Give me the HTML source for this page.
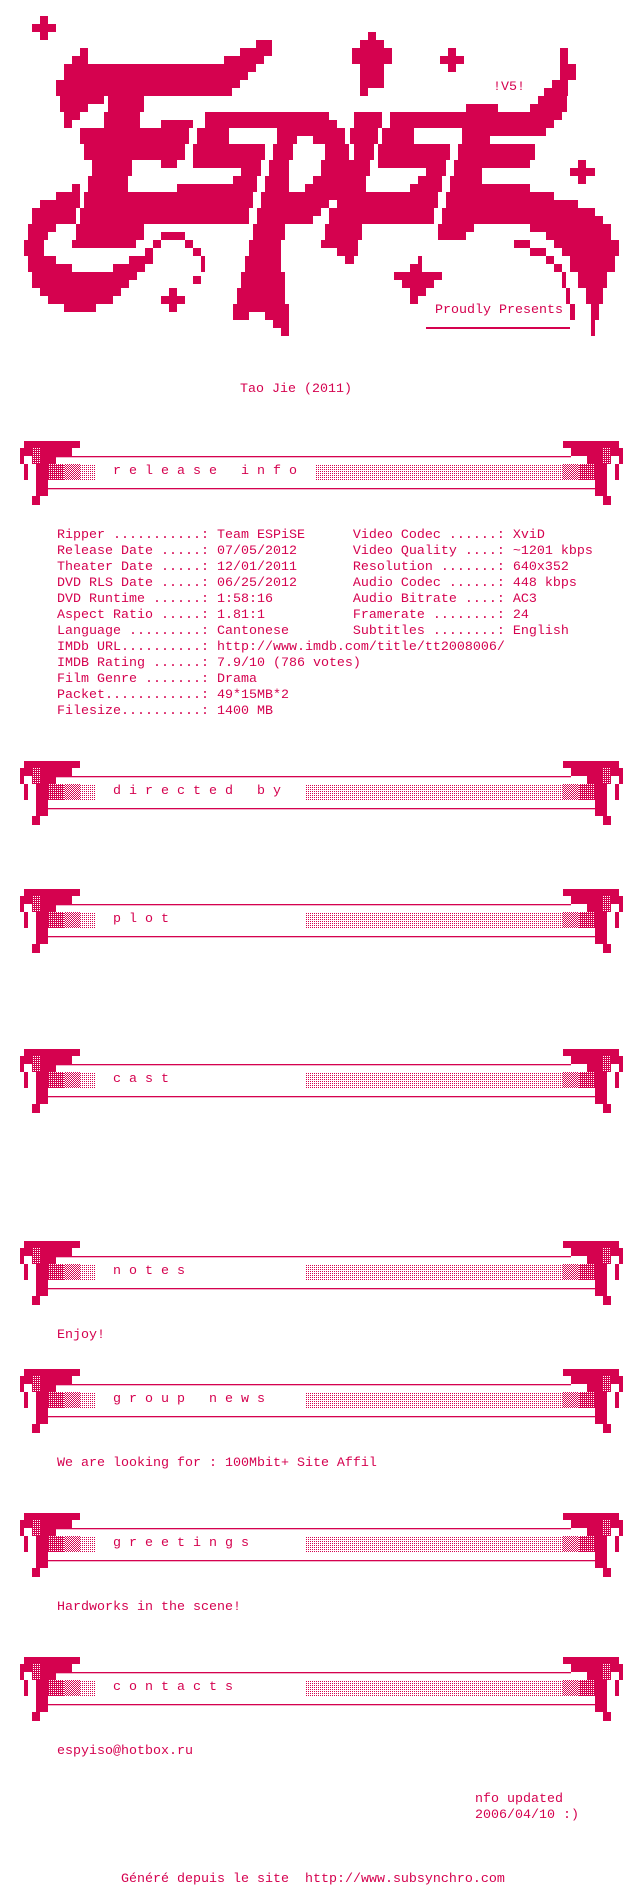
<!DOCTYPE html>
<html><head><meta charset="utf-8">
<style>
html,body{margin:0;padding:0;background:#fff;}
body{width:624px;height:1888px;position:relative;overflow:hidden;}
.t{position:absolute;margin:0;font-family:"Liberation Mono",monospace;font-size:13.33px;line-height:16px;color:#d5024f;white-space:pre;}
.h{position:absolute;left:0;width:624px;height:64px;}
svg{display:block;}
</style></head><body>
<svg width="0" height="0" style="position:absolute">
<defs>
<pattern id="pd" width="2" height="2" patternUnits="userSpaceOnUse"><rect width="2" height="2" fill="#d5024f"/><rect x="1" y="1" width="1" height="1" fill="#fff"/></pattern>
<pattern id="pc" width="2" height="2" patternUnits="userSpaceOnUse"><rect width="1" height="1" fill="#d5024f"/><rect x="1" y="1" width="1" height="1" fill="#d5024f"/></pattern>
<pattern id="ps" width="2" height="2" patternUnits="userSpaceOnUse"><rect width="1" height="1" fill="#d5024f"/></pattern>
<g id="hd">
<rect x="24" y="0" width="56" height="7" fill="#d5024f"/>
<rect x="20" y="7" width="52" height="8" fill="#d5024f"/>
<rect x="56" y="15" width="515" height="1.3" fill="#d5024f"/>
<rect x="20" y="15" width="4" height="8" fill="#d5024f"/>
<rect x="40" y="15" width="16" height="8" fill="#d5024f"/>
<rect x="24" y="23" width="4" height="16" fill="#d5024f"/>
<rect x="36" y="23" width="12" height="32" fill="#d5024f"/>
<rect x="32" y="7" width="8" height="16" fill="#fff"/>
<rect x="32" y="7" width="8" height="16" fill="url(#pd)"/>
<rect x="48" y="23" width="16" height="16" fill="url(#pd)"/>
<rect x="64" y="23" width="16" height="16" fill="url(#pc)"/>
<rect x="80" y="23" width="16" height="16" fill="url(#ps)"/>
<rect x="48" y="47" width="547" height="1.3" fill="#d5024f"/>
<rect x="32" y="55" width="8" height="9" fill="#d5024f"/>
<rect x="563" y="0" width="56" height="7" fill="#d5024f"/>
<rect x="571" y="7" width="52" height="8" fill="#d5024f"/>
<rect x="587" y="15" width="16" height="8" fill="#d5024f"/>
<rect x="619" y="15" width="4" height="8" fill="#d5024f"/>
<rect x="615" y="23" width="4" height="16" fill="#d5024f"/>
<rect x="595" y="23" width="12" height="32" fill="#d5024f"/>
<rect x="603" y="7" width="8" height="16" fill="#fff"/>
<rect x="603" y="7" width="8" height="16" fill="url(#pd)"/>
<rect x="562" y="23" width="17" height="16" fill="url(#pc)"/>
<rect x="579" y="23" width="16" height="16" fill="url(#pd)"/>
<rect x="603" y="55" width="8" height="9" fill="#d5024f"/>
</g>
</defs></svg>

<svg style="position:absolute;left:0;top:0" width="624" height="336" viewBox="0 0 78 42" preserveAspectRatio="none" shape-rendering="crispEdges">
<path fill="#d5024f" d="
M5 2h1v1h-1z M4 3h3v1h-3z M5 4h1v1h-1z M46 4h1v1h-1z
M32 5h2v1h-2z M45 5h3v1h-3z
M10 6h1v1h-1z M30 6h4v1h-4z M44 6h5v1h-5z M56 6h1v1h-1z M70 6h1v1h-1z
M9 7h2v1h-2z M28 7h5v1h-5z M44 7h5v1h-5z M55 7h3v1h-3z M70 7h1v1h-1z
M8 8h24v1h-24z M45 8h3v1h-3z M56 8h1v1h-1z M70 8h2v1h-2z
M8 9h23v1h-23z M45 9h3v1h-3z M70 9h2v1h-2z
M7 10h23v1h-23z M45 10h3v1h-3z M69 10h2v1h-2z
M7 11h22v1h-22z M45 11h1v1h-1z M68 11h3v1h-3z
M7.5 12h5.5v1h-5.5z M13.5 12h4.5v1h-4.5z M67.25 12h3.6v1h-3.6z
M7.5 13h3.5v1h-3.5z M13.5 13h4.5v1h-4.5z M58.25 13h4v1h-4z M66.25 13h4.6v1h-4.6z
M8 14h2v1h-2z M13 14h4.5v1h-4.5z M25.65 14h15.5v1h-15.5z M44.25 14h3.5v1h-3.5z M48.75 14h21.5v1h-21.5z
M8 15h1v1h-1z M13 15h4.5v1h-4.5z M20.1 15h4v1h-4z M25.65 15h16.5v1h-16.5z M44.25 15h3.5v1h-3.5z M48.75 15h20.5v1h-20.5z
M10 16h13.6v1h-13.6z M24.65 16h4v1h-4z M34.65 16h8.5v1h-8.5z M43.75 16h3.5v1h-3.5z M47.75 16h4v1h-4z M57.75 16h10.5v1h-10.5z
M10 17h13.6v1h-13.6z M24.65 17h4v1h-4z M34.65 17h2.5v1h-2.5z M39.15 17h4v1h-4z M43.75 17h3.5v1h-3.5z M47.75 17h4v1h-4z M57.75 17h3.5v1h-3.5z
M10.5 18h12.6v2h-12.6z M24.15 18h9v2h-9z M34.15 18h2.5v2h-2.5z M40.65 18h3v2h-3z M44.25 18h2.5v2h-2.5z M47.25 18h9v2h-9z M57.25 18h9.6v2h-9.6z
M11.5 20h5v1h-5z M20.1 20h2v1h-2z M24.15 20h8.5v1h-8.5z M33.65 20h2.5v1h-2.5z M40.15 20h6.1v1h-6.1z M47.25 20h8.5v1h-8.5z M56.75 20h9.5v1h-9.5z M72.25 20h1v1h-1z
M11.5 21h5v1h-5z M30.15 21h2.5v1h-2.5z M33.65 21h2.5v1h-2.5z M40.15 21h6.1v1h-6.1z M53.25 21h2.5v1h-2.5z M56.75 21h3.5v1h-3.5z M71.25 21h3.1v1h-3.1z
M11 22h5v1h-5z M29.15 22h3v1h-3z M33.15 22h3v1h-3z M39.15 22h6.6v1h-6.6z M52.25 22h3v1h-3z M56.25 22h4v1h-4z M72.25 22h1v1h-1z
M9 23h1v1h-1z M11 23h5v1h-5z M22.1 23h10.05v1h-10.05z M33.15 23h3v1h-3z M38.15 23h7.6v1h-7.6z M51.25 23h4v1h-4z M56.25 23h10v1h-10z
M7 24h3v1h-3z M10.5 24h21.15v1h-21.15z M32.65 24h22.1v1h-22.1z M55.75 24h13.5v1h-13.5z
M5 25h5v1h-5z M10.5 25h21.15v1h-21.15z M32.65 25h8.5v1h-8.5z M42.15 25h12.6v1h-12.6z M55.75 25h16.5v1h-16.5z
M4 26h5.5v1h-5.5z M10 26h21.15v1h-21.15z M32.15 26h8v1h-8z M41.15 26h13.1v1h-13.1z M55.25 26h19.1v1h-19.1z
M4 27h5.5v1h-5.5z M10 27h21.15v1h-21.15z M32.15 27h7v1h-7z M41.15 27h13.1v1h-13.1z M55.25 27h20.1v1h-20.1z
M3.5 28h3.5v1h-3.5z M9.5 28h8.5v1h-8.5z M31.65 28h4v1h-4z M40.65 28h4.6v1h-4.6z M54.75 28h4.5v1h-4.5z M66.25 28h10.1v1h-10.1z
M3.5 29h2.5v1h-2.5z M9.5 29h8.5v1h-8.5z M20.1 29h3v1h-3z M31.65 29h4v1h-4z M40.65 29h4.6v1h-4.6z M54.75 29h3.5v1h-3.5z M68.25 29h8.1v1h-8.1z
M3 30h2.5v1h-2.5z M9 30h8v1h-8z M19.1 30h1v1h-1z M23.1 30h1v1h-1z M31.15 30h4v1h-4z M40.15 30h4.6v1h-4.6z M64.25 30h2v1h-2z M69.25 30h8.1v1h-8.1z
M3 31h2.5v1h-2.5z M18.1 31h1v1h-1z M24.1 31h1v1h-1z M31.15 31h4v1h-4z M42.15 31h2.6v1h-2.6z M66.25 31h2v1h-2z M70.25 31h7.1v1h-7.1z
M3.5 32h3.5v1h-3.5z M16.1 32h3v1h-3z M25.1 32h0.5v1h-0.5z M30.65 32h4.5v1h-4.5z M43.15 32h1.1v1h-1.1z M52.25 32h0.5v1h-0.5z M68.25 32h1v1h-1z M71.25 32h5.6v1h-5.6z
M3.5 33h5.5v1h-5.5z M14.1 33h4v1h-4z M25.1 33h0.5v1h-0.5z M30.65 33h4.5v1h-4.5z M51.25 33h1.5v1h-1.5z M69.25 33h1v1h-1z M71.25 33h5.6v1h-5.6z
M4 34h13.1v1h-13.1z M24.15 34.5h1v1h-1z M30.15 34h5.5v1h-5.5z M49.25 34h6v1h-6z M70.25 34h0.5v1h-0.5z M72.25 34h3.6v1h-3.6z
M4 35h12.1v1h-12.1z M30.15 35h5.5v1h-5.5z M50.25 35h4v1h-4z M70.25 35h0.5v1h-0.5z M72.25 35h3.6v1h-3.6z
M5 36h10.1v1h-10.1z M21.1 36h1v1h-1z M29.65 36h6v1h-6z M51.25 36h2v1h-2z M70.75 36h0.5v1h-0.5z M73.25 36h2.1v1h-2.1z
M6 37h8.1v1h-8.1z M20.1 37h3v1h-3z M29.65 37h6v1h-6z M51.25 37h1v1h-1z M70.75 37h0.5v1h-0.5z M73.25 37h2.1v1h-2.1z
M8 38h4v1h-4z M21.1 38h1v1h-1z M29.15 38h7v1h-7z M71.25 38h0.6v1h-0.6z M73.85 38h1v1h-1z
M29.15 39h2v1h-2z M33.15 39h3v1h-3z M71.25 39h0.6v1h-0.6z M73.85 39h1v1h-1z
M34.15 40h2v1h-2z M73.85 40h0.5v1h-0.5z
M35.15 41h1v1h-1z M73.85 41h0.5v1h-0.5z"/>
<rect x="53.25" y="41" width="18" height="0.15" fill="#d5024f"/>
</svg>
<div class="t" style="left:493px;top:80px">!V5!</div>
<div class="t" style="left:435px;top:303px">Proudly Presents</div>
<div style="position:absolute;left:426px;top:327px;width:144px;height:1px;background:#d5024f"></div>

<div class="t" style="left:240px;top:382px">Tao Jie (2011)</div>

<svg class="h" style="top:441px" width="624" height="64"><use href="#hd"/><rect x="315" y="23" width="247" height="16" fill="url(#ps)"/></svg>
<div class="t" style="left:113px;top:464px">r e l e a s e   i n f o</div>

<div class="t" style="left:57px;top:528px">Ripper ...........: Team ESPiSE      Video Codec ......: XviD
Release Date .....: 07/05/2012       Video Quality ....: ~1201 kbps
Theater Date .....: 12/01/2011       Resolution .......: 640x352
DVD RLS Date .....: 06/25/2012       Audio Codec ......: 448 kbps
DVD Runtime ......: 1:58:16          Audio Bitrate ....: AC3
Aspect Ratio .....: 1.81:1           Framerate ........: 24
Language .........: Cantonese        Subtitles ........: English
IMDb URL..........: http://www.imdb.com/title/tt2008006/
IMDB Rating ......: 7.9/10 (786 votes)
Film Genre .......: Drama
Packet............: 49*15MB*2
Filesize..........: 1400 MB</div>

<svg class="h" style="top:761px" width="624" height="64"><use href="#hd"/><rect x="306" y="23" width="256" height="16" fill="url(#ps)"/></svg>
<div class="t" style="left:113px;top:784px">d i r e c t e d   b y</div>

<svg class="h" style="top:889px" width="624" height="64"><use href="#hd"/><rect x="306" y="23" width="256" height="16" fill="url(#ps)"/></svg>
<div class="t" style="left:113px;top:912px">p l o t</div>

<svg class="h" style="top:1049px" width="624" height="64"><use href="#hd"/><rect x="306" y="23" width="256" height="16" fill="url(#ps)"/></svg>
<div class="t" style="left:113px;top:1072px">c a s t</div>

<svg class="h" style="top:1241px" width="624" height="64"><use href="#hd"/><rect x="306" y="23" width="256" height="16" fill="url(#ps)"/></svg>
<div class="t" style="left:113px;top:1264px">n o t e s</div>
<div class="t" style="left:57px;top:1328px">Enjoy!</div>

<svg class="h" style="top:1369px" width="624" height="64"><use href="#hd"/><rect x="306" y="23" width="256" height="16" fill="url(#ps)"/></svg>
<div class="t" style="left:113px;top:1392px">g r o u p   n e w s</div>
<div class="t" style="left:57px;top:1456px">We are looking for : 100Mbit+ Site Affil</div>

<svg class="h" style="top:1513px" width="624" height="64"><use href="#hd"/><rect x="306" y="23" width="256" height="16" fill="url(#ps)"/></svg>
<div class="t" style="left:113px;top:1536px">g r e e t i n g s</div>
<div class="t" style="left:57px;top:1600px">Hardworks in the scene!</div>

<svg class="h" style="top:1657px" width="624" height="64"><use href="#hd"/><rect x="306" y="23" width="256" height="16" fill="url(#ps)"/></svg>
<div class="t" style="left:113px;top:1680px">c o n t a c t s</div>
<div class="t" style="left:57px;top:1744px">espyiso@hotbox.ru</div>

<div class="t" style="left:475px;top:1792px">nfo updated
2006/04/10 :)</div>

<div class="t" style="left:121px;top:1872px">Généré depuis le site  http://www.subsynchro.com</div>
</body></html>
